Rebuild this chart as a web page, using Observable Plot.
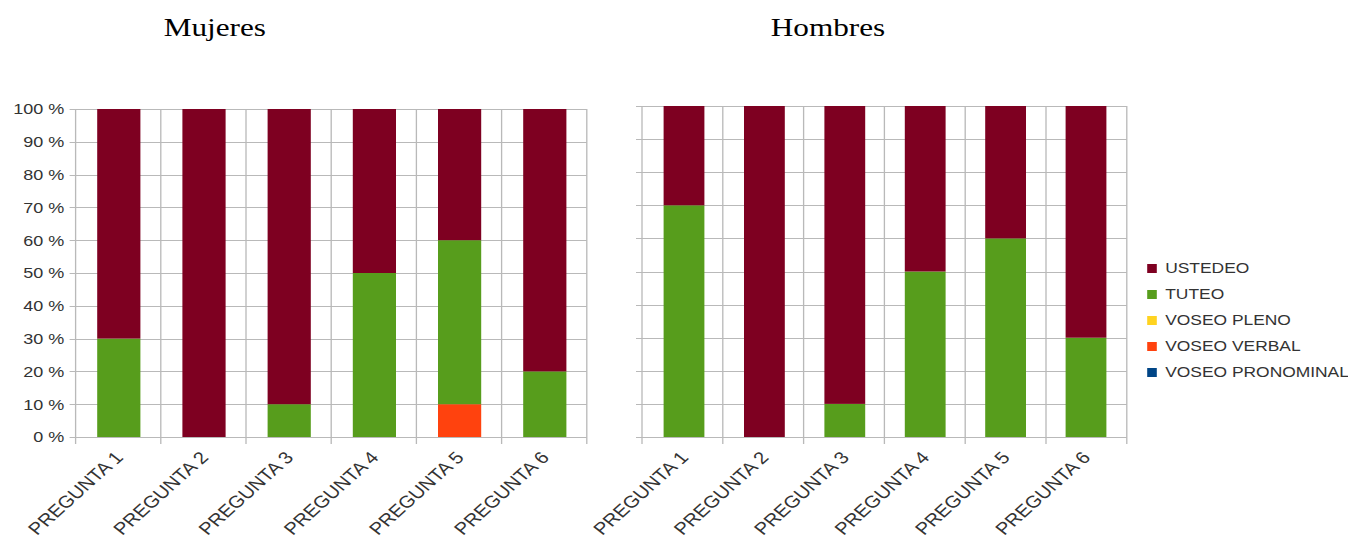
<!DOCTYPE html>
<html>
<head>
<meta charset="utf-8">
<script src="https://cdn.jsdelivr.net/npm/d3@7"></script>
<script src="https://cdn.jsdelivr.net/npm/@observablehq/plot@0.6"></script>
<style>
  body { margin: 0; background: #fff; overflow: hidden; }
  /* the whole figure is drawn 1.2x wider than tall, like the exported chart */
  #page { position: relative; width: 1124px; height: 540px; transform: scaleX(1.2); transform-origin: 0 0;
          font-family: "Liberation Sans", Arial, sans-serif; }
  .title { position: absolute; top: 15px; transform: translateX(-50%); white-space: nowrap;
           font-family: "Liberation Serif", "Times New Roman", serif; font-size: 26px; line-height: 26px; color: #000; }
  .panel { position: absolute; top: 80px; }
  #legend { position: absolute; left: 956px; top: 259px; font-size: 14.5px; color: #333; }
  #legend .row { height: 26px; line-height: 18px; display: flex; align-items: flex-start; white-space: nowrap; }
  #legend .row .sw { width: 8px; height: 9px; margin-right: 7px; margin-top: 5px; flex: none; }
</style>
</head>
<body>
<div id="page">
  <div class="title" style="left:179px">Mujeres</div>
  <div class="title" style="left:690px">Hombres</div>
  <div class="panel" id="left" style="left:0px"></div>
  <div class="panel" id="right" style="left:500px"></div>
  <div id="legend"></div>
</div>
<script>
// Questions on the x axis
const preguntas = ["PREGUNTA 1", "PREGUNTA 2", "PREGUNTA 3", "PREGUNTA 4", "PREGUNTA 5", "PREGUNTA 6"];
// Series, stacked from the bottom up
const series = ["VOSEO PRONOMINAL", "VOSEO VERBAL", "VOSEO PLENO", "TUTEO", "USTEDEO"];
const colores = ["#004586", "#ff420e", "#ffd320", "#579d1c", "#7e0021"];
// Legend lists the series from the top of the stack down
const leyenda = ["USTEDEO", "TUTEO", "VOSEO PLENO", "VOSEO VERBAL", "VOSEO PRONOMINAL"];
const yTicks = [0, 10, 20, 30, 40, 50, 60, 70, 80, 90, 100];

// Mujeres (%)
const mujeresPronominal = [0, 0, 0, 0, 0, 0];
const mujeresVerbal     = [0, 0, 0, 0, 10, 0];
const mujeresPleno      = [0, 0, 0, 0, 0, 0];
const mujeresTuteo      = [30, 0, 10, 50, 50, 20];
const mujeresUstedeo    = [70, 100, 90, 50, 40, 80];

// Hombres (%)
const hombresPronominal = [0, 0, 0, 0, 0, 0];
const hombresVerbal     = [0, 0, 0, 0, 0, 0];
const hombresPleno      = [0, 0, 0, 0, 0, 0];
const hombresTuteo      = [70, 0, 10, 50, 60, 30];
const hombresUstedeo    = [30, 100, 90, 50, 40, 70];

function toRows(cols) {
  const rows = [];
  preguntas.forEach((p, i) => series.forEach((s, j) => rows.push({pregunta: p, serie: s, valor: cols[j][i]})));
  return rows;
}

// Light grid: horizontal lines at each y tick (with short ticks to the left of the frame),
// vertical lines at the category boundaries (with short ticks below the frame)
function grid(index, scales, values, dims) {
  const {width, height, marginLeft, marginRight, marginTop, marginBottom} = dims;
  const x0 = marginLeft, x1 = width - marginRight, yb = height - marginBottom;
  const g = d3.create("svg:g").attr("stroke", "#b9b9b9").attr("stroke-width", 1.1).attr("fill", "none");
  for (const t of yTicks) {
    const y = Math.round(scales.y(t)) + 0.5;
    g.append("line").attr("x1", x0 - 5).attr("x2", x1).attr("y1", y).attr("y2", y);
  }
  const n = preguntas.length;
  for (let i = 0; i <= n; i++) {
    const x = x0 + (x1 - x0) * i / n;
    g.append("line").attr("x1", x).attr("x2", x).attr("y1", marginTop).attr("y2", yb + 7);
  }
  return g.node();
}

function panel(cols, {width, marginLeft, marginTop, showY}) {
  const svg = Plot.plot({
    width, height: 460,
    marginLeft, marginRight: 11, marginTop, marginBottom: 103,
    style: {fontFamily: "'Liberation Sans', Arial, sans-serif", fontSize: "15px", color: "#333", background: "transparent", overflow: "visible"},
    x: {domain: preguntas, paddingInner: 0.5, paddingOuter: 0.25, label: null, tickSize: 0, tickRotate: -47, tickPadding: 17},
    y: showY
      ? {domain: [0, 100], ticks: yTicks, tickFormat: d => d + " %", label: null, tickSize: 0, tickPadding: 10}
      : {domain: [0, 100], axis: null},
    color: {domain: series, range: colores},
    marks: [
      grid,
      Plot.barY(toRows(cols), {x: "pregunta", y: "valor", fill: "serie"})
    ]
  });
  // category labels are set a little larger than the percentage labels
  svg.querySelectorAll('[aria-label^="x-axis"]').forEach(g => g.style.fontSize = "17px");
  return svg;
}

document.getElementById("left").append(
  panel([mujeresPronominal, mujeresVerbal, mujeresPleno, mujeresTuteo, mujeresUstedeo],
        {width: 500, marginLeft: 63, marginTop: 29, showY: true}));
document.getElementById("right").append(
  panel([hombresPronominal, hombresVerbal, hombresPleno, hombresTuteo, hombresUstedeo],
        {width: 450, marginLeft: 35, marginTop: 26, showY: false}));

const legend = d3.select("#legend");
for (const s of leyenda) {
  const row = legend.append("div").attr("class", "row");
  row.append("div").attr("class", "sw").style("background", colores[series.indexOf(s)]);
  row.append("span").text(s);
}
</script>
</body>
</html>
